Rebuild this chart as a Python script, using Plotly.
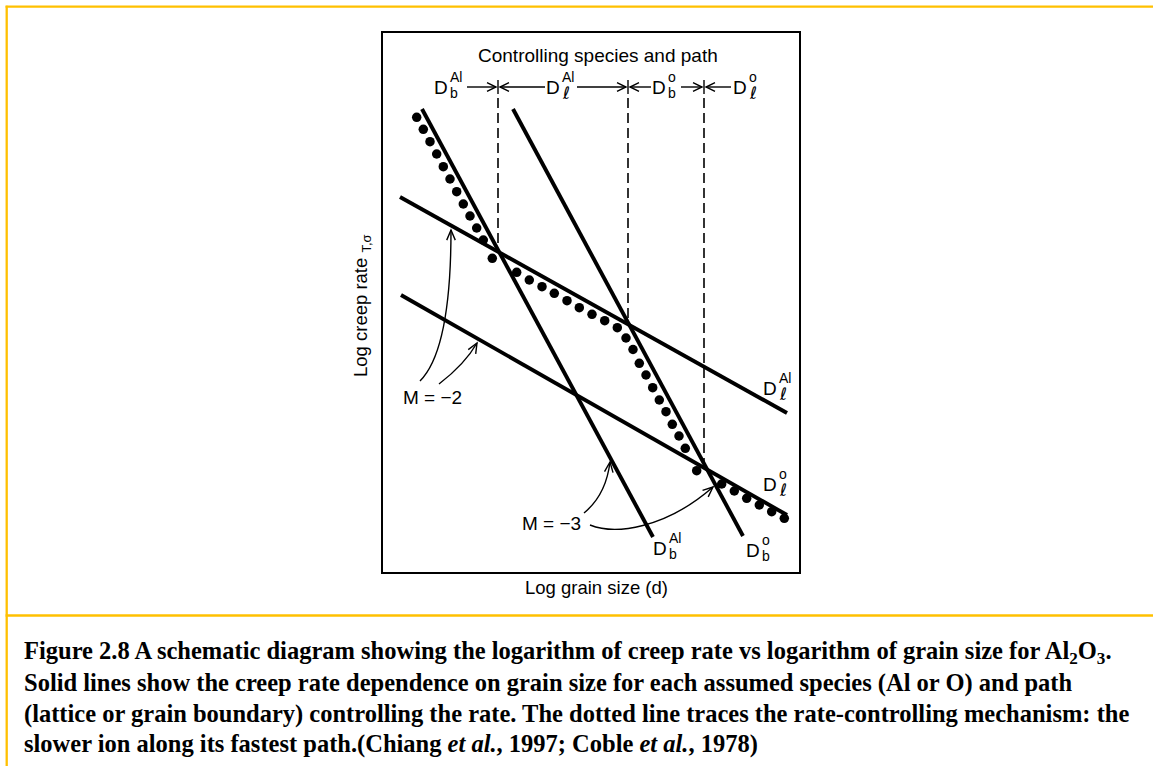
import math
import plotly.graph_objects as go

# ---- schematic data (arbitrary log units: x = log grain size, y = log creep rate) ----
line_names = ["Db_Al", "Db_O", "Dl_Al", "Dl_O"]
line_x0 = [39, 130, 17, 18]
line_y0 = [463, 463, 375, 277]
line_x1 = [270, 360, 404, 404]
line_y1 = [35, 36, 159, 57]

# rate-controlling mechanism (dotted trace)
dot_x = [33.7, 40.3, 47, 53.7, 60.3, 67, 73.7, 80.3, 87, 93.7, 100.3, 109.3,
         133.7, 146.3, 159, 171.3, 184, 196.3, 209, 221.7, 234.3,
         243, 250, 256.3, 263, 269.7, 276.3, 283, 289.3, 296, 302.3, 313.7,
         338.7, 351.3, 363.7, 376.3, 388.7, 401.3]
dot_y = [454.7, 442.7, 430.3, 418, 405.3, 393, 380.3, 368, 356, 344, 332, 313.7,
         299.7, 292, 285.3, 278.7, 271.3, 264.3, 257.7, 251.3, 244.3,
         234, 222.5, 208.7, 197, 184.3, 172, 160.3, 147.7, 136, 123.7, 101.3,
         88, 81, 73.7, 67, 60.3, 53.7]

# transitions between controlling species/path
trans_x = [115, 245, 321]
trans_y_bottom = [319, 250, 108]
trans_y_top = 474

# top row of labels
row_y = 485
top_labels_x = [58, 170, 276, 357]
top_labels_sup = ["Al", "Al", "o", "o"]
top_labels_sub = ["b", "ℓ", "b", "ℓ"]
# arrows in top row: (tail x, tip x)
row_arrows = [(84, 113), (162, 117), (194, 243), (268, 247), (298, 319), (348, 323)]

# labels at line ends
end_labels_x = [387, 387, 277, 370]
end_labels_y = [184, 88, 24, 22]
end_labels_sup = ["Al", "o", "Al", "o"]
end_labels_sub = ["ℓ", "ℓ", "b", "b"]

# slope annotations and curved arrows (P0, C, P2)
m_labels = ["M = \u22122", "M = \u22123"]
m_labels_x = [49, 168]
m_labels_y = [175, 49]
curved_arrows = [
    [(37, 191), (68, 222), (68, 342)],
    [(56, 188), (82, 208), (94, 229)],
    [(201, 59), (223, 77), (227, 110)],
    [(207, 47), (252, 28), (330, 85)],
]

X_RANGE = [0, 416]
Y_RANGE = [0, 539]

fig = go.Figure()

for x0, y0, x1, y1 in zip(line_x0, line_y0, line_x1, line_y1):
    fig.add_trace(go.Scatter(x=[x0, x1], y=[y0, y1], mode="lines",
                             line=dict(color="black", width=3.9), hoverinfo="skip"))

for xt, yb in zip(trans_x, trans_y_bottom):
    fig.add_trace(go.Scatter(x=[xt, xt], y=[trans_y_top, yb], mode="lines",
                             line=dict(color="black", width=1.6, dash="10px,5px"),
                             hoverinfo="skip"))
    fig.add_trace(go.Scatter(x=[xt, xt], y=[row_y - 7, row_y + 7], mode="lines",
                             line=dict(color="black", width=1.4), hoverinfo="skip"))

fig.add_trace(go.Scatter(x=dot_x, y=dot_y, mode="markers",
                         marker=dict(color="black", size=9.5), hoverinfo="skip"))

shapes = []


def chevron(tip, d, length=9.0, half=0.42):
    ang = math.atan2(d[1], d[0])
    a1 = ang + math.pi - half
    a2 = ang + math.pi + half
    p1 = (tip[0] + length * math.cos(a1), tip[1] + length * math.sin(a1))
    p2 = (tip[0] + length * math.cos(a2), tip[1] + length * math.sin(a2))
    return f"M {p1[0]:.2f},{p1[1]:.2f} L {tip[0]:.2f},{tip[1]:.2f} L {p2[0]:.2f},{p2[1]:.2f}"


for tail, tip in row_arrows:
    shapes.append(dict(type="line", xref="x", yref="y", x0=tail, y0=row_y, x1=tip, y1=row_y,
                       line=dict(color="black", width=1.4)))
    shapes.append(dict(type="path", xref="x", yref="y",
                       path=chevron((tip, row_y), (tip - tail, 0), 10, 0.45),
                       line=dict(color="black", width=1.4)))

for i, pts in enumerate(curved_arrows):
    p0, c, p2 = pts
    if i == 3:
        path = f"M {p0[0]},{p0[1]} C {p0[0]+25},{p0[1]-10} {c[0]+30},{c[1]+15} {p2[0]},{p2[1]}"
        d = (p2[0] - (c[0] + 30), p2[1] - (c[1] + 15))
    else:
        path = f"M {p0[0]},{p0[1]} Q {c[0]},{c[1]} {p2[0]},{p2[1]}"
        d = (p2[0] - c[0], p2[1] - c[1])
    shapes.append(dict(type="path", xref="x", yref="y", path=path,
                       line=dict(color="black", width=1.4)))
    shapes.append(dict(type="path", xref="x", yref="y", path=chevron(p2, d, 11, 0.4),
                       line=dict(color="black", width=1.4)))


# pixel -> paper helpers
def px2paper_x(px):
    return (px - 383) / 416


def py2paper_y(py):
    return (572 - py) / 539


gold = "#FFC000"
shapes.append(dict(type="line", xref="paper", yref="paper",
                   x0=px2paper_x(6.7), x1=px2paper_x(6.7), y0=py2paper_y(5.7), y1=py2paper_y(770),
                   line=dict(color=gold, width=2.3)))
shapes.append(dict(type="line", xref="paper", yref="paper",
                   x0=px2paper_x(5.6), x1=px2paper_x(1160), y0=py2paper_y(6.7), y1=py2paper_y(6.7),
                   line=dict(color=gold, width=2.3)))
shapes.append(dict(type="line", xref="paper", yref="paper",
                   x0=px2paper_x(5.6), x1=px2paper_x(1160), y0=py2paper_y(615.5), y1=py2paper_y(615.5),
                   line=dict(color=gold, width=2.3)))

annotations = []
SANS = "Liberation Sans, Arial, sans-serif"


def dlabel(x, y, sup, sub, sup_dy=10, sub_dy=-6):
    annotations.append(dict(x=x, y=y, xref="x", yref="y", text="D", showarrow=False,
                            xanchor="center", yanchor="middle",
                            font=dict(family=SANS, size=19, color="black")))
    annotations.append(dict(x=x + 6.5, y=y + sup_dy, xref="x", yref="y", text=sup, showarrow=False,
                            xanchor="left", yanchor="middle",
                            font=dict(family=SANS, size=14, color="black")))
    subsize = 17 if sub == "ℓ" else 14
    annotations.append(dict(x=x + 6.5, y=y + sub_dy, xref="x", yref="y", text=sub, showarrow=False,
                            xanchor="left", yanchor="middle",
                            font=dict(family="DejaVu Sans, sans-serif" if sub == "ℓ" else SANS,
                                      size=subsize, color="black")))


for x, s, b in zip(top_labels_x, top_labels_sup, top_labels_sub):
    dlabel(x, row_y, s, b)
for x, y, s, b in zip(end_labels_x, end_labels_y, end_labels_sup, end_labels_sub):
    dlabel(x, y, s, b)

for t, x, y in zip(m_labels, m_labels_x, m_labels_y):
    annotations.append(dict(x=x, y=y, xref="x", yref="y", text=t, showarrow=False,
                            xanchor="center", yanchor="middle",
                            font=dict(family=SANS, size=19, color="black")))

annotations.append(dict(x=215, y=517, xref="x", yref="y", text="Controlling species and path",
                        showarrow=False, xanchor="center", yanchor="middle",
                        font=dict(family=SANS, size=19, color="black")))
annotations.append(dict(x=px2paper_x(596), y=py2paper_y(587), xref="paper", yref="paper",
                        text="Log grain size (d)",
                        showarrow=False, xanchor="center", yanchor="middle",
                        font=dict(family=SANS, size=18.5, color="black")))
annotations.append(dict(x=px2paper_x(362), y=py2paper_y(306), xref="paper", yref="paper",
                        text="Log creep rate <sub>T,σ</sub>",
                        showarrow=False, xanchor="center", yanchor="middle", textangle=-90,
                        font=dict(family=SANS, size=18.5, color="black")))

caption_lines = [
    "Figure 2.8 A schematic diagram showing the logarithm of creep rate vs logarithm of grain size for Al<sub>2</sub>O<sub>3</sub>.",
    "Solid lines show the creep rate dependence on grain size for each assumed species (Al or O) and path",
    "(lattice or grain boundary) controlling the rate. The dotted line traces the rate-controlling mechanism: the",
    "slower ion along its fastest path.(Chiang <i>et al.</i>, 1997; Coble <i>et al.</i>, 1978)",
]
caption_y_px = [652, 683, 714, 744]
for t, py in zip(caption_lines, caption_y_px):
    annotations.append(dict(x=px2paper_x(22), y=py2paper_y(py), xref="paper", yref="paper",
                            text="<b>" + t + "</b>", showarrow=False, xanchor="left", yanchor="middle",
                            font=dict(family="Liberation Serif, Times New Roman, serif", size=24.5,
                                      color="black")))

axis_common = dict(showgrid=False, zeroline=False, showticklabels=False, ticks="",
                   showline=True, linecolor="black", linewidth=2, mirror=True, fixedrange=True)

fig.update_layout(
    width=1153, height=766,
    margin=dict(l=383, r=354, t=33, b=194),
    paper_bgcolor="white", plot_bgcolor="white",
    showlegend=False,
    xaxis=dict(range=X_RANGE, **axis_common),
    yaxis=dict(range=Y_RANGE, **axis_common),
    shapes=shapes,
    annotations=annotations,
)

fig.write_html("out.html")
